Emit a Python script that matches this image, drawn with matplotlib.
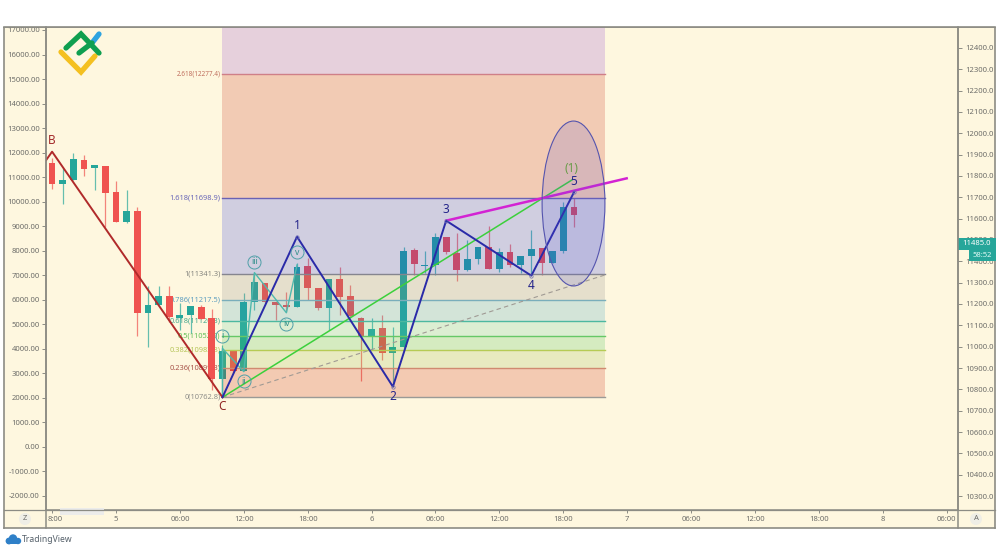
import matplotlib
matplotlib.use("Agg")
import matplotlib.pyplot as plt
from matplotlib.patches import Ellipse, Rectangle, Circle
from matplotlib.transforms import offset_copy

plt.rcParams['font.family'] = ['Noto Sans', 'DejaVu Sans']

# ---------- data ----------
hours = list(range(-6, 44))
opens = [11862,11762,11781,11876,11837,11848,11723,11583,11637,11159,11197,11239,11133,11147,11186,11133,10848,
         10981,10887,11211,11298,11211,11195,11184,11378,11276,11180,11316,11237,11136,11044,11086,10972,10997,
         11453,11378,11383,11516,11441,11359,11409,11466,11366,11442,11383,11425,11461,11391,11448,11653]
closes = [11761,11781,11880,11834,11853,11722,11583,11637,11159,11197,11239,11141,11148,11191,11130,10848,10981,
          10887,11211,11301,11211,11195,11184,11375,11276,11180,11316,11234,11144,11047,11084,10972,11000,11450,
          11386,11383,11516,11444,11359,11409,11466,11366,11442,11381,11425,11456,11391,11448,11653,11619]
highs = [11883,11836,11906,11898,11853,11848,11776,11734,11656,11284,11286,11286,11203,11191,11195,11177,11008,
         10984,11250,11344,11298,11211,11258,11391,11414,11276,11316,11372,11289,11141,11136,11148,11094,11469,
         11461,11450,11531,11516,11531,11500,11469,11566,11461,11481,11425,11547,11461,11448,11680,11695]
lows = [11737,11669,11781,11801,11734,11562,11583,11578,11052,11000,11197,11117,11078,11062,11130,10797,10781,
        10875,10887,11172,11203,11125,11164,11184,11219,11172,11078,11148,11141,10841,10984,10937,10812,10992,
        11336,11344,11336,11433,11308,11355,11387,11366,11350,11375,11344,11336,11336,11391,11441,11562]

fib_prices = [10762.8, 10899.3, 10983.8, 11052.0, 11120.3, 11217.5, 11341.3, 11698.9, 12277.4]
fib_labels = ['0(10762.8)', '0.236(10899.3)', '0.382(10983.8)', '0.5(11052.0)', '0.618(11120.3)',
              '0.786(11217.5)', '1(11341.3)', '1.618(11698.9)', '2.618(12277.4)']
fib_sizes = [5.4, 5.4, 5.4, 5.4, 5.4, 5.4, 5.4, 5.4, 4.6]
fib_line_colors = ['#9a9a96', '#d08a70', '#b6cb55', '#66c866', '#4db8a0', '#7aaebb', '#85858f', '#6a62b4', '#cf7f88']
fib_text_colors = ['#8f8f8a', '#a8554a', '#b7c55a', '#62bf55', '#49a98f', '#5f9fc0', '#85857f', '#6a68b8', '#c0705f']
fib_fill_colors = [(200,25,0), (145,185,70), (50,190,70), (85,205,160), (40,155,190),
                   (130,130,130), (25,45,230), (195,30,10), (134,52,208)]

bc_x, bc_y = [-6.55, -6, 10], [11875, 11914, 10762.8]
wave_x, wave_y = [10, 17, 26, 31, 39, 43], [10762.8, 11515.6, 10812.5, 11590.6, 11332.8, 11723.4]
wave_names = ['C', '1', '2', '3', '4', '5']
sub_x, sub_y = [10, 10, 12, 13, 16, 17], [10762.8, 10992, 10883, 11347, 11159, 11383]
sub_names = ['', 'i', 'ii', 'iii', 'iv', 'v']
sub_off = [0, 9, -7, 8, -8, 9]
green_x, green_y = [10, 42.8], [10762.8, 11781]
dash_x, dash_y = [10, 45.9], [10762.8, 11336]
mag_x, mag_y = [31, 47.95], [11590.6, 11789]

left_ticks = list(range(-2000, 18000, 1000))
right_ticks = list(range(10300, 12500, 100))
time_ticks = [0, 6, 12, 18, 24, 30, 36, 42, 48, 54, 60, 66, 72, 78]
time_labels = ['5', '06:00', '12:00', '18:00', '6', '06:00', '12:00', '18:00', '7',
               '06:00', '12:00', '18:00', '8', '06:00']
last_price = 11485.0
countdown = '58:52'

# ---------- style ----------
BG = '#fef7df'
UP, DOWN = '#26a69a', '#ef5350'
AX = '#8c8c84'
TXT = '#6e6e6a'
XLIM = (-6.57, 79.06)
YLIM = (10234.4, 12498.4)
FIB_X = (10, 45.9)
FS = 5.5

fig = plt.figure(figsize=(10, 5.52), dpi=100, facecolor='white')
W, H = 1000, 552
def rect(x0, y0, x1, y1):
    return [x0 / W, 1 - y1 / H, (x1 - x0) / W, (y1 - y0) / H]

bgax = fig.add_axes(rect(4, 27, 995, 528), zorder=0)
bgax.set_facecolor(BG)
bgax.set_xticks([]); bgax.set_yticks([])
for s in bgax.spines.values():
    s.set_color(AX); s.set_linewidth(1.2)

lax = fig.add_axes(rect(46, 27, 958, 510), zorder=1)
lax.patch.set_alpha(0)
lax.set_ylim(-2571, 17122)
lax.set_xticks([])
lax.set_yticks(left_ticks)
lax.set_yticklabels([f'{v:.2f}' for v in left_ticks])
lax.tick_params(axis='y', direction='out', length=3, width=0.7, color=AX, pad=1.5, labelsize=FS, labelcolor=TXT)
for s in lax.spines.values():
    s.set_visible(False)

ax = fig.add_axes(rect(46, 27, 958, 510), zorder=2)
ax.patch.set_alpha(0)
ax.set_xlim(*XLIM); ax.set_ylim(*YLIM)

for p, lab, c, fs in zip(fib_prices, fib_labels, fib_text_colors, fib_sizes):
    ax.annotate(lab, (FIB_X[0], p), xytext=(-1.5, 0), textcoords='offset points', ha='right', va='center',
                fontsize=fs, color=c, zorder=1)

for h, o, c, hi, lo in zip(hours, opens, closes, highs, lows):
    col = UP if c >= o else DOWN
    ax.vlines(h, lo, hi, color=col, lw=0.9, alpha=0.7, zorder=2)
    ax.bar(h, abs(c - o), bottom=min(o, c), width=0.64, color=col, zorder=2.1)

tops = fib_prices[1:] + [YLIM[1]]
for lo, hi, rgb in zip(fib_prices, tops, fib_fill_colors):
    ax.fill_between(FIB_X, lo, hi, color=[v / 255 for v in rgb], alpha=0.2, lw=0, zorder=3)
for p, c in zip(fib_prices, fib_line_colors):
    ax.plot(FIB_X, [p, p], color=c, lw=1.0, zorder=3.2)

ax.plot(dash_x, dash_y, color='#a09a94', lw=0.8, ls=(0, (4, 3)), zorder=4)
ax.plot(green_x, green_y, color='#3cd03c', lw=1.1, zorder=4)
ax.plot(mag_x, mag_y, color='#d322d3', lw=1.8, zorder=4.4)
ax.plot(bc_x, bc_y, color='#b02a2a', lw=1.4, zorder=4.2)
ax.plot(sub_x, sub_y, color='#4fb8ad', lw=1.0, zorder=4.1)
ax.plot(wave_x, wave_y, color='#2a2aa8', lw=1.4, zorder=4.5)

ax.add_patch(Ellipse((42.96, 11671), 5.9, 773, fc=(0.32, 0.32, 0.85, 0.16), ec='#5454ae', lw=0.8, zorder=4.6))

def mark(name, x, y, dy, col, fs=8.5):
    ax.annotate(name, (x, y), xytext=(0, dy), textcoords='offset points', ha='center', va='center',
                fontsize=fs, color=col, zorder=6)
mark('B', bc_x[1], bc_y[1], 8, '#a32a2a')
mark('C', wave_x[0], wave_y[0], -7, '#8f2420')
for n, x, y, dy in zip(wave_names[1:], wave_x[1:], wave_y[1:], [8, -7, 8, -7, 8]):
    mark(n, x, y, dy, '#24248a')
mark('(1)', green_x[1], green_y[1], 8, '#6a9c4a')

for n, x, y, dy in zip(sub_names[1:], sub_x[1:], sub_y[1:], sub_off[1:]):
    ax.annotate(n, (x, y), xytext=(0, dy), textcoords='offset points', ha='center', va='center',
                fontsize=6.2, color='#2f8f8a', zorder=6)
    tr = offset_copy(ax.transData, fig=fig, x=0, y=dy, units='points')
    ax.plot([x], [y], marker='o', ms=9.4, mfc='none', mec='#4f9fa8', mew=0.7, ls='none', transform=tr, zorder=5.5)
for x, y in zip(wave_x[1:], wave_y[1:]):
    ax.plot([x], [y], 'o', ms=2.4, mfc='none', mec='#6a6ab0', mew=0.5, zorder=5)

ax.set_xticks([])
ax.yaxis.tick_right()
ax.set_yticks(right_ticks)
ax.set_yticklabels([f'{v:.1f}' for v in right_ticks])
ax.tick_params(axis='y', direction='out', length=3, width=0.7, color=AX, pad=2, labelsize=FS, labelcolor=TXT)
for s in ('left', 'right', 'bottom'):
    ax.spines[s].set_color(AX); ax.spines[s].set_linewidth(1.1)
ax.spines['top'].set_visible(False)

tax = fig.add_axes(rect(46, 510, 958, 528), zorder=2)
tax.patch.set_alpha(0)
tax.set_xlim(*XLIM); tax.set_ylim(0, 1)
tax.set_yticks([])
tax.xaxis.tick_top()
tax.set_xticks([-6] + time_ticks)
tax.tick_params(axis='x', direction='in', length=2, width=0.7, color=AX, labeltop=False)
for s in tax.spines.values():
    s.set_visible(False)
tax.text(-5.75, 0.45, '8:00', ha='center', va='center', fontsize=FS, color=TXT)
for x, lab in zip(time_ticks, time_labels):
    tax.text(x, 0.45, lab, ha='center', va='center', fontsize=FS, color=TXT)

ov = fig.add_axes([0, 0, 1, 1], zorder=5)
ov.set_xlim(0, W); ov.set_ylim(H, 0); ov.axis('off')
ov.add_patch(Rectangle((0, 0), W, 26.5, fc='white', ec='none'))
ov.plot([4, 995], [27, 27], color=AX, lw=1.2)
ov.plot([46, 46], [27, 528], color=AX, lw=1.1)
ov.plot([958, 958], [27, 528], color=AX, lw=1.1)
ov.add_patch(Rectangle((60, 508), 44, 6.5, fc='#ececea', ec='none'))
ov.plot([4, 995], [510, 510], color=AX, lw=0.9)
ov.add_patch(Circle((25, 519), 6, fc='#efeee6', ec='none'))
ov.text(25, 519, 'Z', ha='center', va='center', fontsize=5.5, color=TXT)
ov.add_patch(Circle((976, 519), 6, fc='#efeee6', ec='none'))
ov.text(976, 519, 'A', ha='center', va='center', fontsize=5.5, color=TXT)

ov.add_patch(Rectangle((958, 238), 38, 11.5, fc=UP, ec='none'))
ov.add_patch(Rectangle((969, 250), 27, 11, fc=UP, ec='none'))
ov.text(977, 243.6, f'{last_price:.1f}', ha='center', va='center', fontsize=FS, color='white')
ov.text(982.5, 255.5, countdown, ha='center', va='center', fontsize=FS, color='#dffaf5')

ov.plot([61, 81, 95], [52, 72, 56], color='#f4c020', lw=3.8, solid_capstyle='round', solid_joinstyle='miter')
ov.plot([92, 99], [43, 34], color='#2ea3e0', lw=3.8, solid_capstyle='round')
ov.plot([66, 81, 99], [48, 34, 53], color='#0f9f4f', lw=3.8, solid_capstyle='round', solid_joinstyle='miter')
ov.plot([79, 92], [53, 43], color='#0f9f4f', lw=3.8, solid_capstyle='round')

for cx, cy, r in [(9, 541, 3.4), (13, 538.5, 4.2), (18, 541, 3.2)]:
    ov.add_patch(Circle((cx, cy), r, fc='#2f80c8', ec='none'))
ov.add_patch(Rectangle((7, 541), 12, 3.2, fc='#2f80c8', ec='none'))
ov.text(22, 539.5, 'TradingView', ha='left', va='center', fontsize=6.2, color='#55606a')

fig.savefig('out.png', dpi=100, facecolor='white')
